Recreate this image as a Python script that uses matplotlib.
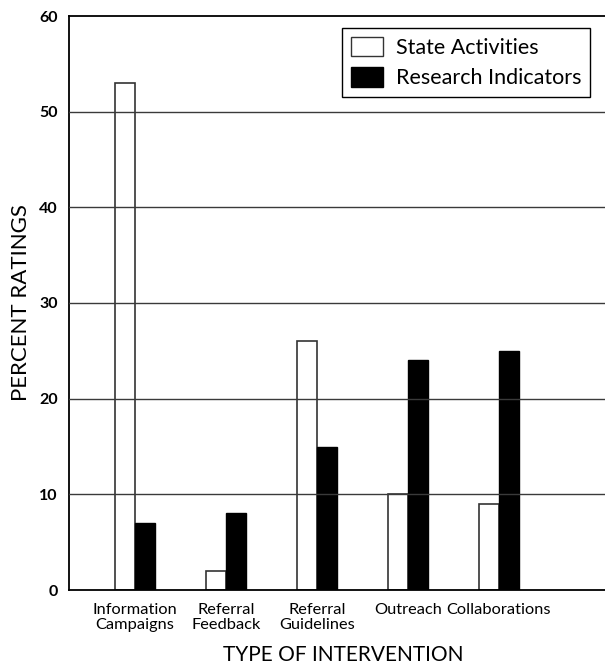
import matplotlib
matplotlib.use("Agg")
import matplotlib.pyplot as plt
import numpy as np
from matplotlib.patches import Patch

categories = ["Information\nCampaigns", "Referral\nFeedback", "Referral\nGuidelines", "Outreach", "Collaborations"]
state_activities = [53, 2, 26, 10, 9]
research_indicators = [7, 8, 15, 24, 25]
yticks = [0, 10, 20, 30, 40, 50, 60]

plt.rcParams['font.family'] = ['Lato', 'DejaVu Sans']

fig = plt.figure(figsize=(6.05, 6.7), dpi=100)
ax_w = 1 - 69/605 + 0.02
ax = fig.add_axes([69/605, 80/670, ax_w, 574/670])

x = np.arange(len(categories))
w = 0.215
ax.bar(x - w/2, state_activities, w, color="white", edgecolor="#333333", linewidth=1.2, zorder=2)
ax.bar(x + w/2, research_indicators, w, color="black", edgecolor="black", linewidth=1.0, zorder=2)

ax.set_ylim(0, 60)
left = -0.725
ax.set_xlim(left, left + ax_w * 605 / 91)
ax.set_yticks(yticks)
ax.set_yticklabels([str(t) for t in yticks], fontsize=11.5, fontweight="bold")
ax.set_xticks(x)
ax.set_xticklabels(categories, fontsize=11.8, linespacing=1.15)
ax.tick_params(length=0)
ax.tick_params(axis='x', pad=9)
ax.tick_params(axis='y', pad=8)

for t in yticks[1:-1]:
    ax.axhline(t, color="#3a3a3a", linewidth=1.0, zorder=3)

ax.spines['right'].set_visible(False)
for s in ['left', 'bottom', 'top']:
    ax.spines[s].set_color('black')
    ax.spines[s].set_linewidth(1.3)

ax.set_ylabel("PERCENT RATINGS", fontsize=16, labelpad=6)
ax.set_xlabel("TYPE OF INTERVENTION", fontsize=15, labelpad=9)

handles = [Patch(facecolor="white", edgecolor="#333333", label="State Activities"),
           Patch(facecolor="black", edgecolor="black", label="Research Indicators")]
leg = ax.legend(handles=handles, loc="upper right",
                fontsize=15.5, frameon=True, fancybox=False, edgecolor="black",
                handlelength=1.5, handleheight=1.0, borderpad=0.4, labelspacing=0.45,
                handletextpad=0.6, borderaxespad=0)
leg.set_bbox_to_anchor((590/605, 1 - 28/670), transform=fig.transFigure)
leg.get_frame().set_linewidth(1.0)
leg.get_frame().set_alpha(1)

fig.savefig("out.png", dpi=100)
